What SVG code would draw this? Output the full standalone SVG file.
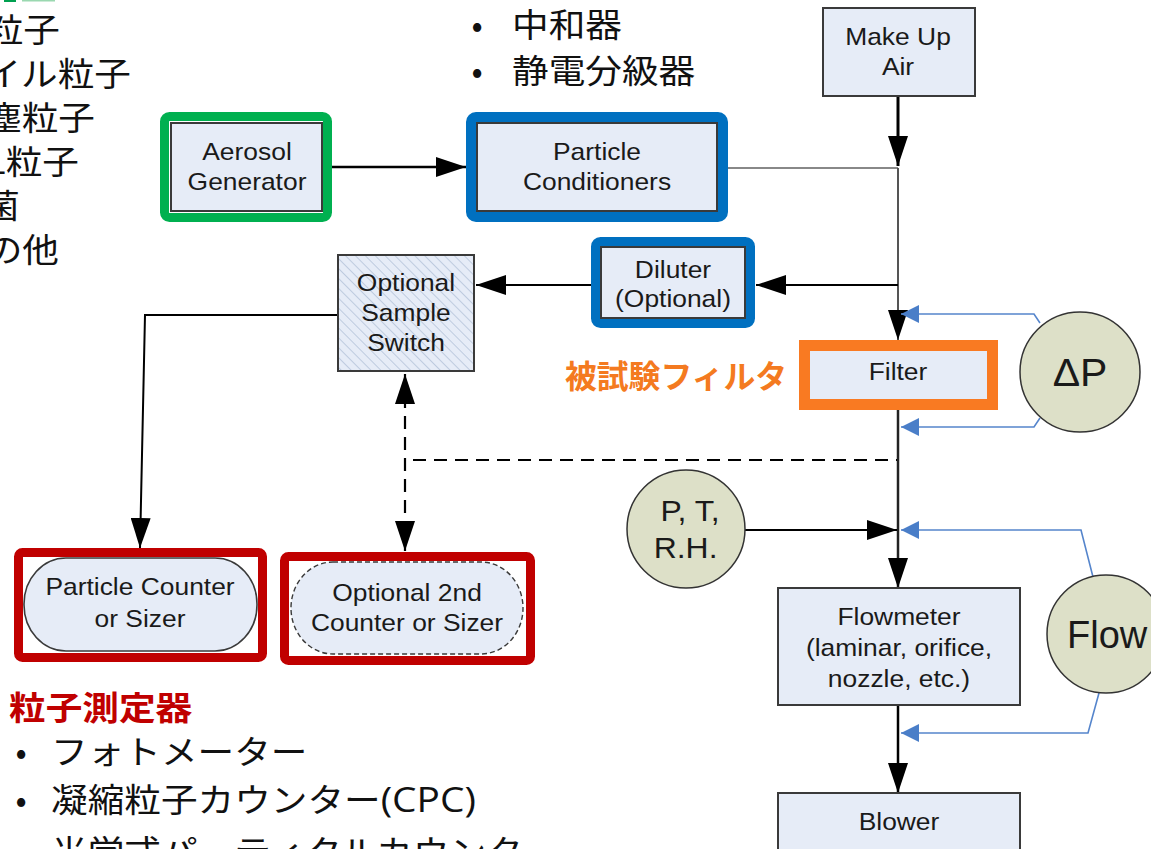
<svg xmlns="http://www.w3.org/2000/svg" width="1151" height="849" viewBox="0 0 1151 849">
<style>
.box{fill:#e6ecf7;stroke:#3a3a3a;stroke-width:2}
.t{font-family:'Liberation Sans',Arial,sans-serif;font-size:24px;fill:#1a1a1a;text-anchor:middle}
.jp{font-family:'Noto Sans CJK JP',sans-serif;font-size:33px;fill:#111}
.circ{fill:#dde0c8;stroke:#333;stroke-width:1.5}
.blk{stroke:#000;stroke-width:2.5;fill:none}
.gry{stroke:#555;stroke-width:2;fill:none}
.blu{stroke:#5585cc;stroke-width:1.6;fill:none}
.dash{stroke:#000;stroke-width:2.2;fill:none;stroke-dasharray:13 8}
</style>
<defs>
<marker id="ah" viewBox="0 0 30 20" refX="30" refY="10" markerWidth="30" markerHeight="20" markerUnits="userSpaceOnUse" orient="auto-start-reverse"><path d="M0,0 L30,10 L0,20 z" fill="#000"/></marker>
<marker id="bh" viewBox="0 0 18 18" refX="18" refY="9" markerWidth="18" markerHeight="18" markerUnits="userSpaceOnUse" orient="auto"><path d="M0,0 L18,9 L0,18 z" fill="#4a7ec8"/></marker>
<pattern id="hatch" patternUnits="userSpaceOnUse" width="7" height="7" patternTransform="rotate(-45)"><rect width="7" height="7" fill="#e6ecf7"/><line x1="0" y1="0" x2="0" y2="7" stroke="#a9b9d3" stroke-width="1.3"/></pattern>
</defs>

<g id="side-texts">
<rect x="4" y="0" width="12" height="2" fill="#00a050"/>
<rect x="22" y="0" width="33" height="1.5" fill="#9ad8b0"/>
<text class="jp" text-anchor="end" transform="translate(60 42) scale(1.11 1)">粒子</text>
<text class="jp" text-anchor="end" transform="translate(131 86) scale(1.11 1)">イル粒子</text>
<text class="jp" text-anchor="end" transform="translate(95 130) scale(1.11 1)">塵粒子</text>
<text class="jp" text-anchor="end" transform="translate(79 174) scale(1.11 1)">L粒子</text>
<text class="jp" text-anchor="end" transform="translate(20 218) scale(1.11 1)">菌</text>
<text class="jp" text-anchor="end" transform="translate(59 262) scale(1.11 1)">の他</text>

<text class="jp" text-anchor="middle" x="477" y="37">•</text>
<text class="jp" transform="translate(512 37) scale(1.11 1)">中和器</text>
<text class="jp" text-anchor="middle" x="477" y="83">•</text>
<text class="jp" transform="translate(512 83) scale(1.11 1)">静電分級器</text>

<text class="jp" transform="translate(9 720) scale(1.11 1)" style="fill:#c00000;font-weight:bold">粒子測定器</text>
<text class="jp" text-anchor="middle" x="21" y="764">•</text>
<text class="jp" transform="translate(51 764) scale(1.11 1)">フォトメーター</text>
<text class="jp" text-anchor="middle" x="21" y="812">•</text>
<text class="jp" transform="translate(51 812) scale(1.11 1)">凝縮粒子カウンター<tspan style="font-family:'Open Sans',sans-serif;font-size:35px">(CPC)</tspan></text>
<text class="jp" text-anchor="middle" x="21" y="864">•</text>
<text class="jp" transform="translate(51 864) scale(1.11 1)">光学式パーティクルカウンター</text>

<text class="jp" x="565" y="388" textLength="222" lengthAdjust="spacingAndGlyphs" style="font-size:32px;fill:#f47a20;font-weight:bold">被試験フィルタ</text>
</g>

<g id="connectors">
<line class="blk" x1="332" y1="167" x2="466" y2="167" marker-end="url(#ah)"/>
<line class="gry" x1="728" y1="168" x2="898" y2="168" style="stroke:#888"/>
<line class="blk" x1="898" y1="97" x2="898" y2="166" style="stroke-width:3" marker-end="url(#ah)"/>
<line class="gry" x1="898" y1="168" x2="898" y2="340" marker-end="url(#ah)"/>
<line class="blk" x1="898" y1="285" x2="756" y2="285" style="stroke-width:2" marker-end="url(#ah)"/>
<line class="blk" x1="591" y1="285" x2="476" y2="285" style="stroke-width:2" marker-end="url(#ah)"/>
<polyline class="blk" points="338,315 145,315 140,548" style="stroke-width:2" marker-end="url(#ah)"/>
<line class="dash" x1="405" y1="374" x2="405" y2="551" marker-start="url(#ah)" marker-end="url(#ah)"/>
<line class="dash" x1="413" y1="460" x2="898" y2="460"/>
<line class="blk" x1="898" y1="410" x2="898" y2="588" style="stroke:#222" marker-end="url(#ah)"/>
<line class="blk" x1="745" y1="530" x2="897" y2="530" style="stroke-width:2.2" marker-end="url(#ah)"/>
<line class="blk" x1="898" y1="705" x2="898" y2="793" marker-end="url(#ah)"/>
<polyline class="blu" points="1040,323 1034,314 901,314" marker-end="url(#bh)"/>
<polyline class="blu" points="1040,418 1034,427 901,427" marker-end="url(#bh)"/>
<polyline class="blu" points="1093,577 1081,530 901,530" marker-end="url(#bh)"/>
<polyline class="blu" points="1099,693 1088,733 901,733" marker-end="url(#bh)"/>
</g>

<g id="make-up-air">
<rect class="box" x="823" y="8" width="152" height="88"/>
<text class="t" transform="translate(898 45) scale(1.1 1)"><tspan x="0" y="0">Make Up</tspan><tspan x="0" y="30">Air</tspan></text>
</g>

<g id="aerosol-generator">
<rect x="164.5" y="116.5" width="163" height="101" rx="5" fill="none" stroke="#00b050" stroke-width="9"/>
<rect class="box" x="171" y="123" width="151" height="88"/>
<text class="t" transform="translate(247 160) scale(1.1 1)"><tspan x="0" y="0">Aerosol</tspan><tspan x="0" y="30">Generator</tspan></text>
</g>

<g id="particle-conditioners">
<rect x="471" y="117" width="252" height="100" rx="5" fill="none" stroke="#0070c0" stroke-width="10"/>
<rect class="box" x="477" y="123" width="240" height="88"/>
<text class="t" transform="translate(597 160) scale(1.1 1)"><tspan x="0" y="0">Particle</tspan><tspan x="0" y="30">Conditioners</tspan></text>
</g>

<g id="diluter">
<rect x="595.5" y="241.5" width="155" height="82" rx="5" fill="none" stroke="#0070c0" stroke-width="9"/>
<rect class="box" x="601" y="247" width="144" height="71"/>
<text class="t" transform="translate(673 278) scale(1.1 1)"><tspan x="0" y="0">Diluter</tspan><tspan x="0" y="29">(Optional)</tspan></text>
</g>

<g id="sample-switch">
<rect x="338" y="255" width="136" height="116" fill="url(#hatch)" stroke="#3a3a3a" stroke-width="2"/>
<text class="t" transform="translate(406 291) scale(1.1 1)"><tspan x="0" y="0">Optional</tspan><tspan x="0" y="30">Sample</tspan><tspan x="0" y="60">Switch</tspan></text>
</g>

<g id="filter">
<rect x="810" y="351" width="177" height="48" fill="#e6ecf7"/>
<rect x="804.5" y="345.5" width="188" height="59" fill="none" stroke="#f97a22" stroke-width="11"/>
<text class="t" transform="translate(898 380) scale(1.1 1)">Filter</text>
</g>

<g id="delta-p">
<circle class="circ" cx="1080" cy="372" r="60"/>
<text class="t" transform="translate(1080 386) scale(1.05 1)" style="font-size:39px">ΔP</text>
</g>

<g id="ptrh">
<circle class="circ" cx="686" cy="529" r="59"/>
<text class="t" transform="translate(690 521) scale(1.1 1)" style="font-size:29px"><tspan x="0" y="0">P, T,</tspan><tspan x="-4" y="37">R.H.</tspan></text>
</g>

<g id="flow">
<circle class="circ" cx="1106" cy="634" r="59"/>
<text class="t" x="1067" y="648" style="font-size:38px;text-anchor:start">Flow</text>
</g>

<g id="flowmeter">
<rect class="box" x="778" y="588" width="242" height="117"/>
<text class="t" transform="translate(899 625) scale(1.1 1)"><tspan x="0" y="0">Flowmeter</tspan><tspan x="0" y="31">(laminar, orifice,</tspan><tspan x="0" y="62">nozzle, etc.)</tspan></text>
</g>

<g id="blower">
<rect class="box" x="778" y="793" width="242" height="70"/>
<text class="t" transform="translate(899 830) scale(1.1 1)">Blower</text>
</g>

<g id="particle-counter">
<rect x="18.5" y="552.5" width="244" height="105" rx="4" fill="none" stroke="#c00000" stroke-width="9"/>
<rect x="24" y="558" width="233" height="93" rx="42" ry="46" fill="#e6ecf7" stroke="#3a3a3a" stroke-width="1.6"/>
<text class="t" transform="translate(140 595) scale(1.1 1)"><tspan x="0" y="0">Particle Counter</tspan><tspan x="0" y="32">or Sizer</tspan></text>
</g>

<g id="second-counter">
<rect x="284.5" y="556.5" width="246" height="104" rx="4" fill="none" stroke="#c00000" stroke-width="9"/>
<rect x="291" y="562" width="232" height="92" rx="42" ry="46" fill="#e6ecf7" stroke="#3a3a3a" stroke-width="1.4" stroke-dasharray="5 3"/>
<text class="t" transform="translate(407 601) scale(1.1 1)"><tspan x="0" y="0">Optional 2nd</tspan><tspan x="0" y="30">Counter or Sizer</tspan></text>
</g>
</svg>
